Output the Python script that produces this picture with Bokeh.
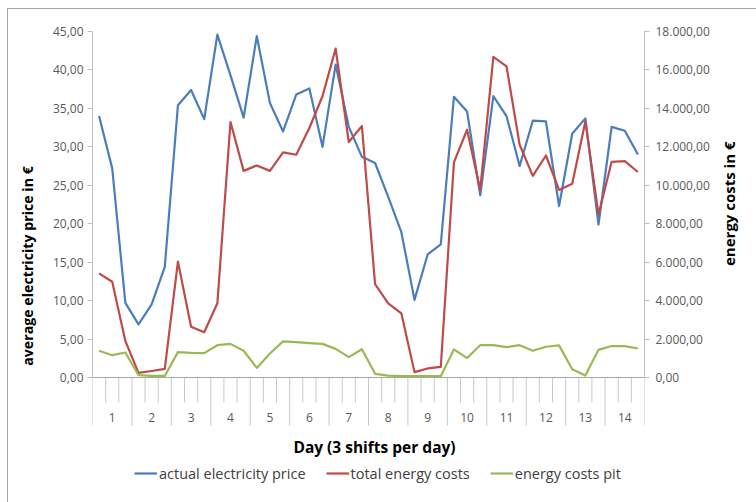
import math

from bokeh.core.properties import value
from bokeh.embed import file_html
from bokeh.models import (CustomJSTickFormatter, FixedTicker, InlineStyleSheet,
                          Legend, LegendItem, LinearAxis, Range1d, Title)
from bokeh.plotting import figure
from bokeh.resources import INLINE

# ---- data: 14 days x 3 shifts ----------------------------------------------
days = [str(d) for d in range(1, 15)]
shifts_per_day = 3

actual_price = [
    34.0, 27.2, 9.7, 6.9, 9.5, 14.4, 35.4, 37.4, 33.6, 44.6, 39.3, 33.8,
    44.4, 35.7, 32.0, 36.8, 37.6, 30.0, 40.7, 32.6, 28.7, 27.9, 23.5, 18.9,
    10.1, 16.0, 17.3, 36.5, 34.6, 23.7, 36.6, 34.0, 27.5, 33.4, 33.3, 22.3,
    31.7, 33.7, 19.9, 32.6, 32.1, 29.0,
]
total_costs = [
    5420, 4980, 1900, 240, 340, 450, 6030, 2640, 2350, 3860, 13290, 10750,
    11030, 10750, 11710, 11590, 12980, 14630, 17110, 12250, 13080, 4860,
    3860, 3340, 280, 470, 550, 11190, 12890, 9760, 16680, 16190, 12110,
    10490, 11550, 9760, 10080, 13320, 8480, 11220, 11260, 10690,
]
pit_costs = [
    1390, 1160, 1300, 120, 80, 80, 1320, 1280, 1270, 1680, 1750, 1390,
    500, 1250, 1880, 1840, 1790, 1750, 1490, 1060, 1470, 190, 100, 70,
    70, 70, 70, 1460, 1010, 1680, 1680, 1580, 1680, 1390, 1600, 1670,
    430, 100, 1440, 1640, 1630, 1510,
]

price_ticks = list(range(0, 50, 5))
cost_ticks = list(range(0, 20000, 2000))

# ---- layout geometry (pixels) ----------------------------------------------
W, H = 756, 502
LEFT, RIGHT = 92, 644             # plot frame left / right edge
TOP, ZERO, BOTTOM = 31, 377, 500  # frame top, value-zero line, frame bottom

n = len(actual_price)
px_per_slot = (RIGHT - LEFT) / n
k_price = (ZERO - TOP) / max(price_ticks)
k_cost = (ZERO - TOP) / max(cost_ticks)
y_lo = -(BOTTOM - ZERO) / k_price


def px_x(px):
    return (px - LEFT) / px_per_slot


def px_y(py):
    return (ZERO - py) / k_price


def px_cost(py):
    return (ZERO - py) / k_cost


FONT = "Open Sans"
BLUE, RED, GREEN = "#4A7EBB", "#BE4B48", "#98B954"
AXIS_GREY = "#BFBFBF"
TICK_TEXT = "#595959"

# thin grey chart-area border along the top and left edge
frame_css = InlineStyleSheet(css="""
:host { position: relative; }
:host::after {
  content: ""; position: absolute; left: 7px; top: 8px;
  width: 749px; height: 494px; box-sizing: border-box;
  border-left: 1.5px solid #A6A6A6; border-top: 1.5px solid #A6A6A6;
  pointer-events: none;
}
""")

p = figure(
    width=W, height=H, output_backend="svg", toolbar_location=None,
    x_range=Range1d(0, n), y_range=Range1d(y_lo, max(price_ticks)),
    x_axis_location=None, y_axis_location=None,
    min_border_left=LEFT, min_border_right=W - RIGHT,
    min_border_top=TOP, min_border_bottom=H - BOTTOM,
    stylesheets=[frame_css],
)
p.outline_line_color = None
p.xgrid.visible = False
p.ygrid.visible = False
p.extra_y_ranges = {"cost": Range1d(y_lo * max(cost_ticks) / max(price_ticks),
                                    max(cost_ticks))}

# ---- axes --------------------------------------------------------------------
left_ax = LinearAxis(
    bounds=(0, max(price_ticks)), ticker=FixedTicker(ticks=price_ticks),
    formatter=CustomJSTickFormatter(code="return tick.toFixed(2).replace('.', ',');"),
)
right_ax = LinearAxis(
    y_range_name="cost", bounds=(0, max(cost_ticks)),
    ticker=FixedTicker(ticks=cost_ticks),
    formatter=CustomJSTickFormatter(code="""
        const parts = tick.toFixed(2).split('.');
        return parts[0].replace(/\\B(?=(\\d{3})+(?!\\d))/g, '.') + ',' + parts[1];
    """),
)
for ax, standoff in ((left_ax, 4), (right_ax, 6)):
    ax.axis_line_color = AXIS_GREY
    ax.major_tick_line_color = AXIS_GREY
    ax.major_tick_in = 0
    ax.major_tick_out = 5
    ax.minor_tick_line_color = None
    ax.major_label_text_font = FONT
    ax.major_label_text_font_size = "12px"
    ax.major_label_text_color = TICK_TEXT
    ax.major_label_standoff = standoff
p.add_layout(left_ax, "left")
p.add_layout(right_ax, "right")

# right axis title: carried by a bare axis spanning the upper part of the cost scale
title_ax = LinearAxis(
    y_range_name="cost", bounds=(px_cost(329), max(cost_ticks)),
    ticker=FixedTicker(ticks=[]), axis_line_color=None,
    major_tick_line_color=None, minor_tick_line_color=None,
    major_tick_out=0, major_tick_in=0,
    axis_label="energy costs in €",
    axis_label_orientation=math.pi / 2,
    axis_label_standoff=16,
    axis_label_text_font=FONT,
    axis_label_text_font_size="15px",
    axis_label_text_font_style="bold",
    axis_label_text_color="#000000",
)
p.add_layout(title_ax, "right")

# left axis title, placed outside the tick labels
p.add_layout(Title(text="average electricity price in €", align="center",
                   offset=11, standoff=25, text_font=FONT,
                   text_font_size="14.2px", text_font_style="bold",
                   text_color="#000000"), "left")

# ---- category axis below the zero line ----------------------------------------
bounds_x = list(range(n + 1))
short_y = px_y(402)
long_y = px_y(425)
p.segment(x0=bounds_x, y0=[0] * len(bounds_x), x1=bounds_x,
          y1=[long_y if b % shifts_per_day == 0 else short_y for b in bounds_x],
          line_color="#C8C8C8", line_width=1)
p.segment(x0=[0], y0=[0], x1=[n], y1=[0], line_color="#A6A6A6", line_width=1)

day_x = [i * shifts_per_day + shifts_per_day / 2 for i in range(len(days))]
p.text(x=day_x, y=[px_y(417)] * len(days), text=days,
       text_font=value(FONT), text_font_size="12px", text_color=TICK_TEXT,
       text_align="center", text_baseline="middle")
p.text(x=[px_x(374)], y=[px_y(446)], text=["Day (3 shifts per day)"],
       text_font=value(FONT), text_font_size="15.5px", text_font_style="bold",
       text_color="#000000", text_align="center", text_baseline="middle")

# ---- series ----------------------------------------------------------------------
xs = [i + 0.5 for i in range(n)]
r_price = p.line(xs, actual_price, line_color=BLUE, line_width=2.2,
                 line_join="round")
r_total = p.line(xs, total_costs, y_range_name="cost", line_color=RED,
                 line_width=2.2, line_join="round")
r_pit = p.line(xs, pit_costs, y_range_name="cost", line_color=GREEN,
               line_width=2.2, line_join="round")

legend = Legend(
    items=[LegendItem(label="actual electricity price", renderers=[r_price]),
           LegendItem(label="total energy costs", renderers=[r_total]),
           LegendItem(label="energy costs pit", renderers=[r_pit])],
    orientation="horizontal", location=(134 - LEFT, BOTTOM - 483),
    padding=0, margin=0, spacing=20, label_standoff=2,
    glyph_width=23, glyph_height=20, label_height=20,
    label_text_font=FONT, label_text_font_size="14.5px",
    label_text_color="#404040", border_line_color=None,
    background_fill_alpha=0,
)
p.add_layout(legend, "center")

open("out.html", "w").write(file_html(p, INLINE))
